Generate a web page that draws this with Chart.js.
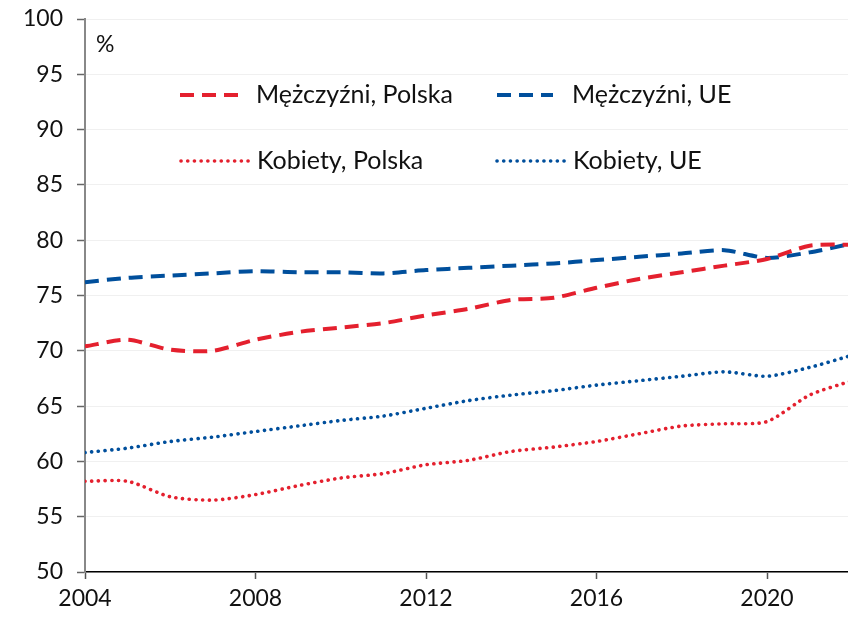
<!DOCTYPE html>
<html>
<head>
<meta charset="utf-8">
<script src="https://cdn.jsdelivr.net/npm/chart.js@4.4.1/dist/chart.umd.min.js"></script>
<style>
  html, body { margin: 0; padding: 0; background: #ffffff; }
  #wrap { position: relative; width: 848px; height: 618px; }
  canvas { display: block; }
</style>
</head>
<body>
<div id="wrap"><canvas id="c" width="848" height="618"></canvas></div>
<script>
// ---- data ----
const years = [2004, 2005, 2006, 2007, 2008, 2009, 2010, 2011, 2012, 2013, 2014, 2015, 2016, 2017, 2018, 2019, 2020, 2021, 2022];
const menPL   = [70.4, 71.0, 70.1, 70.0, 71.0, 71.7, 72.1, 72.5, 73.2, 73.8, 74.6, 74.8, 75.7, 76.5, 77.1, 77.7, 78.3, 79.5, 79.6];
const menEU   = [76.2, 76.6, 76.8, 77.0, 77.2, 77.1, 77.1, 77.0, 77.3, 77.5, 77.7, 77.9, 78.2, 78.5, 78.8, 79.1, 78.4, 78.9, 79.7];
const womenPL = [58.2, 58.2, 56.8, 56.5, 57.0, 57.8, 58.5, 58.9, 59.7, 60.1, 60.9, 61.3, 61.8, 62.5, 63.2, 63.4, 63.6, 66.0, 67.3];
const womenEU = [60.8, 61.2, 61.8, 62.2, 62.7, 63.2, 63.7, 64.1, 64.8, 65.5, 66.0, 66.4, 66.9, 67.3, 67.7, 68.1, 67.7, 68.5, 69.6];
const seriesNames = ['Mężczyźni, Polska', 'Mężczyźni, UE', 'Kobiety, Polska', 'Kobiety, UE'];
const yTicks = [50, 55, 60, 65, 70, 75, 80, 85, 90, 95, 100];
const xTickYears = [2004, 2008, 2012, 2016, 2020];
const unitLabel = '%';

const RED = '#e4202e';
const BLUE = '#004f9c';
const FONT = 'Lato';

const toXY = arr => arr.map((v, i) => ({ x: years[i], y: v }));

const dashStyle = { borderWidth: 4, borderDash: [14, 8], borderCapStyle: 'butt' };
const dotStyle = { borderWidth: 3.6, borderDash: [0.1, 6.6], borderCapStyle: 'round' };

const legendPlugin = {
  id: 'gridLegend',
  afterDraw(chart) {
    const ctx = chart.ctx;
    const items = [
      { ds: 0, x0: 180, x1: 238, tx: 256, y: 95 },
      { ds: 1, x0: 497, x1: 553, tx: 572, y: 95 },
      { ds: 2, x0: 181, x1: 249, tx: 257, y: 161 },
      { ds: 3, x0: 497, x1: 566, tx: 573, y: 161 }
    ];
    ctx.save();
    items.forEach(it => {
      const d = chart.data.datasets[it.ds];
      ctx.beginPath();
      ctx.strokeStyle = d.borderColor;
      ctx.lineWidth = d.borderWidth;
      ctx.lineCap = d.borderCapStyle;
      ctx.setLineDash(d.borderDash);
      ctx.moveTo(it.x0, it.y);
      ctx.lineTo(it.x1, it.y);
      ctx.stroke();
      ctx.setLineDash([]);
      ctx.fillStyle = '#111111';
      ctx.font = '25px ' + FONT;
      ctx.textBaseline = 'middle';
      ctx.textAlign = 'left';
      ctx.fillText(d.label, it.tx, it.y);
    });
    ctx.font = '23px ' + FONT;
    ctx.fillStyle = '#111111';
    ctx.textBaseline = 'middle';
    ctx.fillText(unitLabel, chart.chartArea.left + 11, 45);
    ctx.restore();
  }
};

new Chart(document.getElementById('c'), {
  type: 'line',
  data: {
    datasets: [
      { label: seriesNames[0], data: toXY(menPL), borderColor: RED, ...dashStyle },
      { label: seriesNames[1], data: toXY(menEU), borderColor: BLUE, ...dashStyle },
      { label: seriesNames[2], data: toXY(womenPL), borderColor: RED, ...dotStyle },
      { label: seriesNames[3], data: toXY(womenEU), borderColor: BLUE, ...dotStyle }
    ]
  },
  options: {
    responsive: false,
    animation: false,
    events: [],
    layout: { padding: { top: 19, right: 0, left: 0, bottom: 0 } },
    elements: { point: { radius: 0 }, line: { tension: 0.25, fill: false } },
    plugins: { legend: { display: false }, tooltip: { enabled: false } },
    scales: {
      x: {
        type: 'linear',
        min: 2004,
        max: 2021.9,
        afterFit(s) { s.height = 46; s.paddingLeft = 0; s.paddingRight = 0; },
        afterBuildTicks(s) { s.ticks = xTickYears.map(v => ({ value: v })); },
        ticks: {
          callback: v => String(v),
          color: '#111111',
          font: { family: FONT, size: 23 },
          padding: 6,
          maxRotation: 0,
          autoSkip: false
        },
        grid: { drawOnChartArea: false, drawTicks: true, tickLength: 7, tickColor: '#555555', tickWidth: 1.5 },
        border: { display: true, color: '#000000', width: 1.5 }
      },
      y: {
        min: 50,
        max: 100,
        afterFit(s) { s.width = 85; s.paddingTop = 0; s.paddingBottom = 0; },
        afterBuildTicks(s) { s.ticks = yTicks.map(v => ({ value: v })); },
        ticks: {
          color: '#111111',
          font: { family: FONT, size: 23 },
          padding: 14
        },
        grid: { color: '#f0f0f0', lineWidth: 1, drawTicks: true, tickLength: 8, tickColor: '#666666', tickWidth: 1.5 },
        border: { display: true, color: '#888888', width: 2 }
      }
    }
  },
  plugins: [legendPlugin]
});
</script>
</body>
</html>
